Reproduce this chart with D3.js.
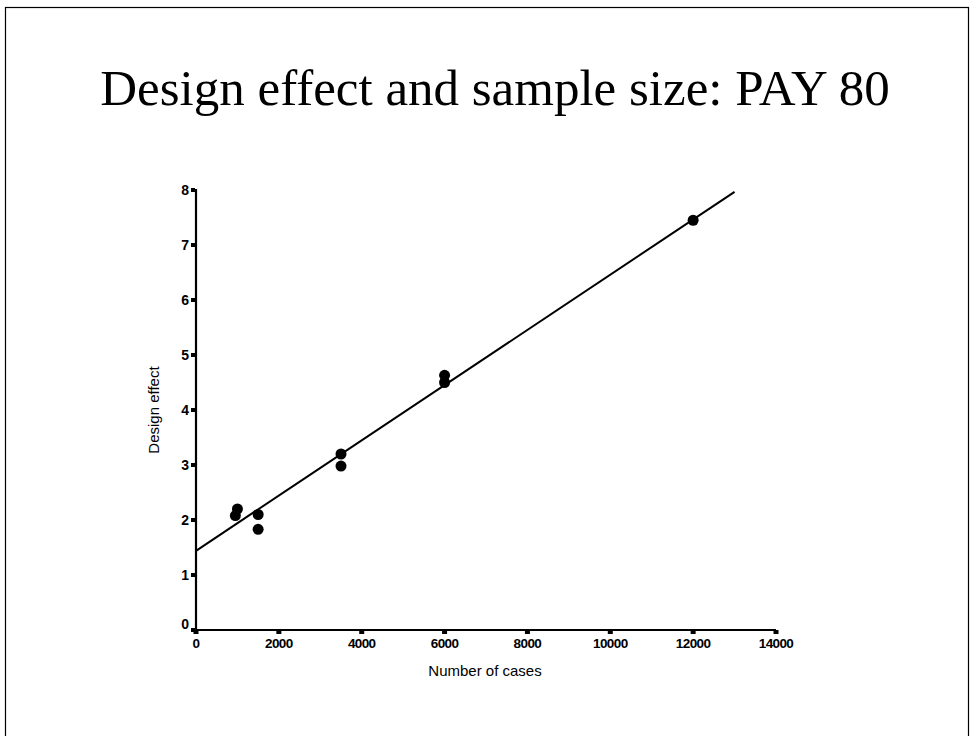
<!DOCTYPE html>
<html><head><meta charset="utf-8">
<script src="https://cdn.jsdelivr.net/npm/d3@7"></script>
<style>body{margin:0;background:#fff;} svg{display:block;}</style>
</head><body>
<svg id="c" width="973" height="736"></svg>
<script>
const titleText = "Design effect and sample size: PAY 80";
const xLabel = "Number of cases";
const yLabel = "Design effect";
const xTicks = [0, 2000, 4000, 6000, 8000, 10000, 12000, 14000];
const yTicks = [0, 1, 2, 3, 4, 5, 6, 7, 8];
const cases = [1000, 950, 1500, 1500, 3500, 3500, 6000, 6000, 12000];
const deff = [2.2, 2.08, 2.1, 1.83, 3.2, 2.98, 4.63, 4.5, 7.45];
const fitX = [0, 13000];
const fitIntercept = 1.44;
const fitSlope = 0.000502;

const svg = d3.select("#c");
svg.append("rect").attr("x", 5.5).attr("y", 7.5).attr("width", 963).attr("height", 740)
  .attr("fill", "none").attr("stroke", "#000").attr("stroke-width", 1.2);

svg.append("text").attr("x", 495).attr("y", 105).attr("text-anchor", "middle")
  .attr("font-family", "Liberation Serif, Times New Roman, serif").attr("font-size", 51)
  .text(titleText);

const x = d3.scaleLinear().domain([0, 14000]).range([196, 776]);
const y = d3.scaleLinear().domain([0, 8]).range([630, 190]);

const g = svg.append("g");
g.append("line").attr("x1", x(0)).attr("x2", x(0)).attr("y1", y(0) + 1).attr("y2", y(8) - 1)
  .attr("stroke", "#000").attr("stroke-width", 2.2);
g.append("line").attr("x1", x(0) - 1).attr("x2", x(14000)).attr("y1", y(0)).attr("y2", y(0))
  .attr("stroke", "#000").attr("stroke-width", 2.2);

g.selectAll(".yt").data(yTicks).join("rect")
  .attr("x", x(0) - 5).attr("y", d => y(d) - 2).attr("width", 4).attr("height", 4).attr("fill", "#000");
g.selectAll(".yl").data(yTicks).join("text")
  .attr("x", x(0) - 7).attr("y", d => y(d) + 5 - (d === 0 ? 6 : 0)).attr("text-anchor", "end")
  .attr("font-family", "Liberation Sans, Arial, sans-serif").attr("font-size", 14).attr("font-weight", "bold")
  .text(d => d);
g.selectAll(".xt").data(xTicks).join("rect")
  .attr("x", d => x(d) - 2.5).attr("y", y(0)).attr("width", 5).attr("height", 4).attr("fill", "#000");
g.selectAll(".xl").data(xTicks).join("text")
  .attr("x", d => x(d)).attr("y", y(0) + 18).attr("text-anchor", "middle")
  .attr("font-family", "Liberation Sans, Arial, sans-serif").attr("font-size", 13.5).attr("font-weight", "bold")
  .attr("letter-spacing", -0.6)
  .text(d => d);

svg.append("text").attr("x", 485).attr("y", 676).attr("text-anchor", "middle")
  .attr("font-family", "Liberation Sans, Arial, sans-serif").attr("font-size", 15).text(xLabel);
svg.append("text").attr("transform", "translate(159,410) rotate(-90)").attr("text-anchor", "middle")
  .attr("font-family", "Liberation Sans, Arial, sans-serif").attr("font-size", 15).text(yLabel);

const line = d3.line().x(d => x(d)).y(d => y(fitIntercept + fitSlope * d));
g.append("path").attr("d", line(fitX)).attr("fill", "none").attr("stroke", "#000").attr("stroke-width", 2);

g.selectAll(".pt").data(cases.map((c, i) => [c, deff[i]])).join("circle")
  .attr("cx", d => x(d[0])).attr("cy", d => y(d[1])).attr("r", 5.5).attr("fill", "#000");
</script>
</body></html>
